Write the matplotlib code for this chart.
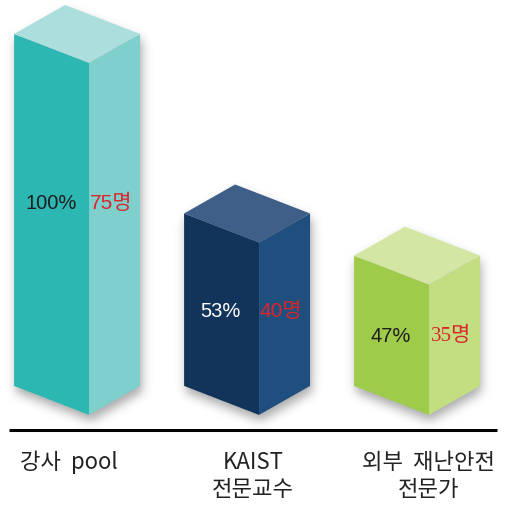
"""
Three 3D-looking boxes: 강사 pool / KAIST 전문교수 / 외부 재난안전 전문가
"""

import numpy as np
import matplotlib.pyplot as plt
from matplotlib.patches import Polygon
from matplotlib.path import Path

plt.rcParams['font.family'] = ['Noto Sans CJK KR', 'DejaVu Sans']

categories = ['강사  pool', 'KAIST\n전문교수', '외부  재난안전\n전문가']
percent = ['100%', '53%', '47%']
counts = ['75명', '40명', '35명']
heights = [100, 49, 37]  # drawn heights (first box = 100)

left_c = ['#2cb7b3', '#12345a', '#9fcb4b']
right_c = ['#7fcfcd', '#1f4f7e', '#c3de80']
top_c = ['#abdedd', '#3f5f89', '#d3e6a3']
pct_c = ['#1e1e1e', 'white', '#1e1e1e']
cnt_font = [['Liberation Sans', 'Noto Sans CJK KR'],
            ['Liberation Sans', 'Noto Sans CJK KR'],
            ['Liberation Serif', 'Noto Sans CJK KR']]
label_dx = [-0.12, -0.035, -0.005]

wl, wr, d = 0.441, 0.30, 8.24  # left face width, right face width, depth drop


def box_faces(i, h):
    left = [(i - wl, d), (i, 0), (i, h), (i - wl, h + d)]
    right = [(i, 0), (i + wr, d), (i + wr, h + d), (i, h)]
    top = [(i - wl, h + d), (i, h), (i + wr, h + d), (i - wl + wr, h + 2 * d)]
    return left, right, top


def outline(i, h):
    return [(i - wl, d), (i, 0), (i + wr, d), (i + wr, h + d),
            (i - wl + wr, h + 2 * d), (i - wl, h + d)]


def blur(a, s):
    k = np.arange(-3 * s, 3 * s + 1)
    g = np.exp(-k ** 2 / (2.0 * s * s))
    g /= g.sum()
    a = np.apply_along_axis(lambda r: np.convolve(r, g, mode='same'), 0, a)
    a = np.apply_along_axis(lambda r: np.convolve(r, g, mode='same'), 1, a)
    return a


fig = plt.figure(figsize=(5.12, 5.05), dpi=100)
ax = fig.add_axes([0, 0, 1, 1])
xlim = (-0.524, 2.488)
ylim = (-25.6, 117.9)
ax.set_xlim(*xlim)
ax.set_ylim(*ylim)
ax.axis('off')

# soft shadow under the boxes
W, H = 512, 505
gx = np.linspace(xlim[0], xlim[1], W)
gy = np.linspace(ylim[1], ylim[0], H)
X, Y = np.meshgrid(gx, gy)
pts = np.column_stack([X.ravel(), Y.ravel()])
mask = np.zeros(W * H)
for i, h in enumerate(heights):
    shifted = [(x + 0.01, y - 1.8) for x, y in outline(i, h)]
    mask += Path(shifted).contains_points(pts)
mask = blur(mask.reshape(H, W).clip(0, 1), 5)
shadow = np.zeros((H, W, 4))
shadow[..., :3] = 0.33
shadow[..., 3] = mask * 0.5
ax.imshow(shadow, extent=(*xlim, *ylim), aspect='auto', zorder=1,
          interpolation='bilinear')

for i, h in enumerate(heights):
    left, right, top = box_faces(i, h)
    ax.add_patch(Polygon(left, closed=True, fc=left_c[i], ec='none', zorder=2))
    ax.add_patch(Polygon(right, closed=True, fc=right_c[i], ec='none', zorder=2))
    ax.add_patch(Polygon(top, closed=True, fc=top_c[i], ec='none', zorder=2))
    ax.text(i - wl / 2 - 0.005, 0.6 * h, percent[i], ha='center', va='center',
            fontsize=14.5, color=pct_c[i], family=['Liberation Sans', 'Noto Sans CJK KR'],
            zorder=3)
    ax.text(i + wr / 2 - 0.02, 0.6 * h, counts[i], ha='center', va='center',
            fontsize=15, color='#d9262b', family=cnt_font[i], zorder=3)
    ax.text(i + label_dx[i], -10.2, categories[i], ha='center', va='top',
            fontsize=16, color='#222222', linespacing=1.22, zorder=3)

ax.plot([-0.47, 2.4], [-4.26, -4.26], color='black', lw=2.2, solid_capstyle='butt',
        zorder=3)

fig.savefig('out.png', dpi=100)
